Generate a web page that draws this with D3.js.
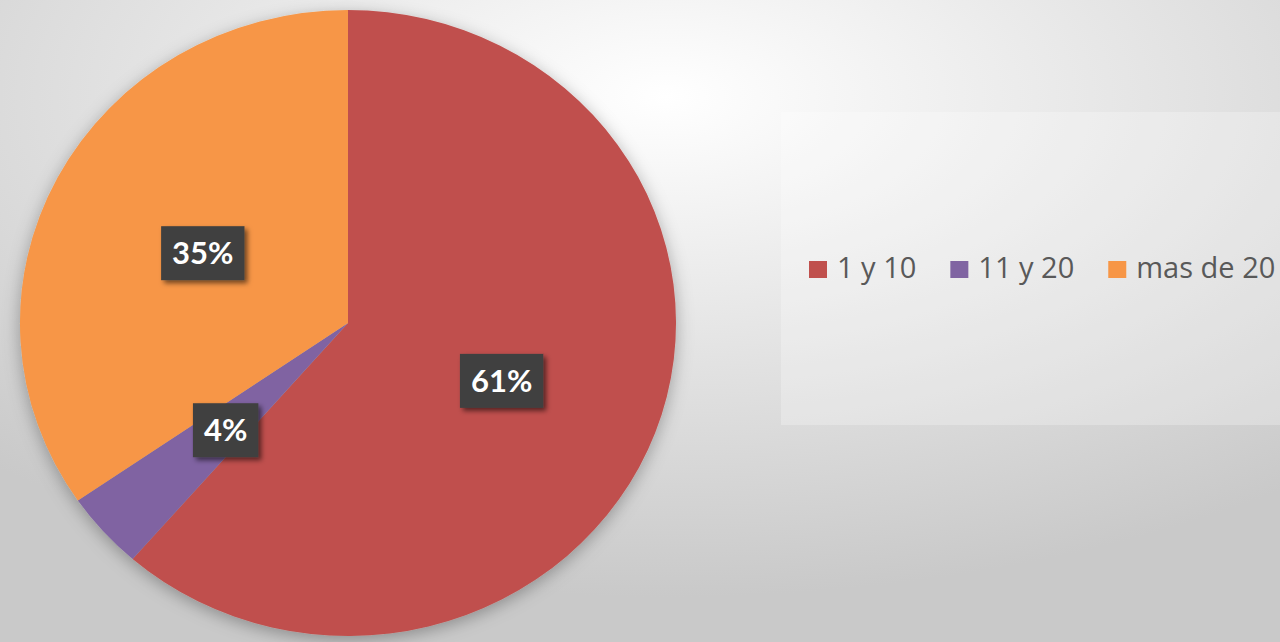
<!DOCTYPE html>
<html>
<head>
<meta charset="utf-8">
<script src="https://cdn.jsdelivr.net/npm/d3@7"></script>
<style>
  body { margin: 0; overflow: hidden; }
  svg { display: block; }
</style>
</head>
<body>
<script>
const width = 1280;
const height = 642;

// datos
const categories = ["1 y 10", "11 y 20", "mas de 20"];
const values = [61.4, 4.0, 34.6];
const colors = ["#c0504d", "#8064a2", "#f79646"];

const svg = d3.select("body").append("svg")
  .attr("width", width)
  .attr("height", height);

const defs = svg.append("defs");

// fondo gris con centro claro
const bg = defs.append("radialGradient")
  .attr("id", "bg")
  .attr("cx", "52%").attr("cy", "15%").attr("r", "78%");
bg.append("stop").attr("offset", "0%").attr("stop-color", "#ffffff");
bg.append("stop").attr("offset", "100%").attr("stop-color", "#c9c9c9");

const shadow = defs.append("filter")
  .attr("id", "shadow")
  .attr("x", "-20%").attr("y", "-20%").attr("width", "140%").attr("height", "140%");
shadow.append("feDropShadow")
  .attr("dx", 0).attr("dy", 4).attr("stdDeviation", 8)
  .attr("flood-color", "#000").attr("flood-opacity", 0.3);

const boxShadow = defs.append("filter")
  .attr("id", "boxshadow")
  .attr("x", "-30%").attr("y", "-30%").attr("width", "160%").attr("height", "160%");
boxShadow.append("feDropShadow")
  .attr("dx", 3).attr("dy", 3).attr("stdDeviation", 2.5)
  .attr("flood-color", "#000").attr("flood-opacity", 0.55);

svg.append("rect")
  .attr("width", width).attr("height", height)
  .attr("fill", "url(#bg)");

// caja de la leyenda
svg.append("rect")
  .attr("x", 781).attr("y", 112)
  .attr("width", 499).attr("height", 313)
  .attr("fill", "#ffffff").attr("fill-opacity", 0.25);

// pastel
const cx = 348, cy = 323;
const radius = 313;
const sx = 1.048;

const pie = d3.pie().sort(null).value(d => d)(values);
const arc = d3.arc().innerRadius(0).outerRadius(radius);

const pieG = svg.append("g")
  .attr("transform", "translate(" + cx + "," + cy + ") scale(" + sx + ",1)")
  .attr("filter", "url(#shadow)");

pieG.selectAll("path")
  .data(pie)
  .enter()
  .append("path")
  .attr("d", arc)
  .attr("fill", (d, i) => colors[i]);

// etiquetas
const labels = svg.append("g");
pie.forEach((d, i) => {
  const c = arc.centroid(d);
  const x = cx + c[0] * sx;
  const y = cy + c[1] + 3;
  const g = labels.append("g").attr("transform", "translate(" + x + "," + y + ")");
  const t = g.append("text")
    .attr("text-anchor", "middle")
    .attr("dy", "0.36em")
    .style("font-family", "Lato, 'Open Sans', sans-serif")
    .style("font-weight", "bold")
    .style("font-size", "31px")
    .attr("fill", "#ffffff")
    .text(Math.round(values[i] / d3.sum(values) * 100) + "%");
  const w = t.node().getComputedTextLength() + 22;
  g.insert("rect", "text")
    .attr("x", -w / 2).attr("y", -27)
    .attr("width", w).attr("height", 54)
    .attr("fill", "#404040")
    .attr("filter", "url(#boxshadow)");
});

// leyenda
const legend = svg.append("g").attr("transform", "translate(809,0)");
let lx = 0;
categories.forEach((c, i) => {
  const item = legend.append("g").attr("transform", "translate(" + lx + ",0)");
  item.append("rect")
    .attr("x", 0).attr("y", 261)
    .attr("width", 18).attr("height", 17)
    .attr("fill", colors[i]);
  const t = item.append("text")
    .attr("x", 28).attr("y", 278)
    .style("font-family", "'Open Sans', sans-serif")
    .style("font-size", "29px")
    .attr("fill", "#595959")
    .text(c);
  lx += 28 + t.node().getComputedTextLength() + 34;
});
</script>
</body>
</html>
